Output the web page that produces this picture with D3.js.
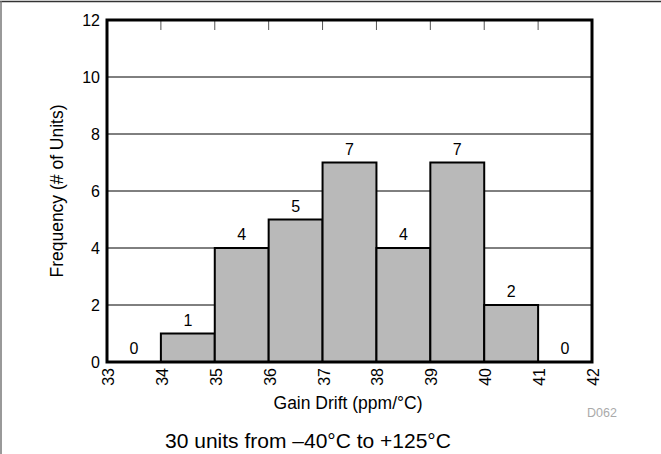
<!DOCTYPE html>
<html>
<head>
<meta charset="utf-8">
<script src="https://cdn.jsdelivr.net/npm/d3@7"></script>
<style>
  body { margin: 0; background: #fff; }
  svg text { font-family: "Liberation Sans", Arial, sans-serif; }
</style>
</head>
<body>
<div id="c"></div>
<script>
// histogram bins (ppm/°C) and counts
var bin_start = [33, 34, 35, 36, 37, 38, 39, 40, 41];
var counts = [0, 1, 4, 5, 7, 4, 7, 2, 0];
var x_ticks = [33, 34, 35, 36, 37, 38, 39, 40, 41, 42];
var y_ticks = [0, 2, 4, 6, 8, 10, 12];

var width = 661, height = 454;
var p_left = 107, p_right = 592, p_top = 20, p_bottom = 362;

var svg = d3.select("#c").append("svg")
	.attr("width", width)
	.attr("height", height);

// outer border (top and left only)
svg.append("line").attr("x1", 0).attr("x2", width).attr("y1", 1.5).attr("y2", 1.5)
	.attr("stroke", "#333").attr("stroke-width", 1.5);
svg.append("line").attr("x1", 1).attr("x2", 1).attr("y1", 1).attr("y2", height)
	.attr("stroke", "#777").attr("stroke-width", 1.5);

var x_scale = d3.scaleLinear().domain([33, 42]).range([p_left, p_right]);
var y_scale = d3.scaleLinear().domain([0, 12]).range([p_bottom, p_top]);

// grid lines
svg.append("g").selectAll("line")
	.data(y_ticks.slice(1, -1))
	.enter().append("line")
	.attr("x1", p_left).attr("x2", p_right)
	.attr("y1", function(d) { return y_scale(d); })
	.attr("y2", function(d) { return y_scale(d); })
	.attr("stroke", "#000").attr("stroke-width", 1);

// top inward ticks
svg.append("g").selectAll("line")
	.data(x_ticks.slice(1, -1))
	.enter().append("line")
	.attr("x1", function(d) { return x_scale(d); })
	.attr("x2", function(d) { return x_scale(d); })
	.attr("y1", p_top).attr("y2", p_top + 10)
	.attr("stroke", "#555").attr("stroke-width", 1);

// bars
svg.append("g").selectAll("rect")
	.data(bin_start)
	.enter().append("rect")
	.attr("x", function(d) { return x_scale(d); })
	.attr("y", function(d, i) { return y_scale(counts[i]); })
	.attr("width", function(d) { return x_scale(d + 1) - x_scale(d); })
	.attr("height", function(d, i) { return p_bottom - y_scale(counts[i]); })
	.attr("fill", "#b9b9b9")
	.attr("stroke", "#000")
	.attr("stroke-width", 2);

// count labels
svg.append("g").selectAll("text")
	.data(bin_start)
	.enter().append("text")
	.attr("x", function(d) { return x_scale(d + 0.5); })
	.attr("y", function(d, i) { return y_scale(counts[i]) - 8; })
	.attr("text-anchor", "middle")
	.attr("font-size", 16)
	.text(function(d, i) { return counts[i]; });

// plot frame
svg.append("rect")
	.attr("x", p_left).attr("y", p_top)
	.attr("width", p_right - p_left).attr("height", p_bottom - p_top)
	.attr("fill", "none").attr("stroke", "#000").attr("stroke-width", 3);

// y tick labels
svg.append("g").selectAll("text")
	.data(y_ticks)
	.enter().append("text")
	.attr("x", p_left - 7)
	.attr("y", function(d) { return y_scale(d) + 6; })
	.attr("text-anchor", "end")
	.attr("font-size", 16)
	.text(function(d) { return d; });

// x tick labels, rotated
svg.append("g").selectAll("text")
	.data(x_ticks)
	.enter().append("text")
	.attr("transform", function(d) { return "translate(" + (x_scale(d) + 7) + "," + (p_bottom + 6) + ") rotate(-90)"; })
	.attr("text-anchor", "end")
	.attr("font-size", 16)
	.text(function(d) { return d; });

svg.append("text")
	.attr("transform", "translate(63," + ((p_top + p_bottom) / 2) + ") rotate(-90)")
	.attr("text-anchor", "middle")
	.attr("font-size", 17.5)
	.text("Frequency (# of Units)");

svg.append("text")
	.attr("x", 348).attr("y", 409)
	.attr("text-anchor", "middle")
	.attr("font-size", 17.5)
	.text("Gain Drift (ppm/°C)");

svg.append("text")
	.attr("x", 602).attr("y", 417)
	.attr("text-anchor", "middle")
	.attr("font-size", 12.5)
	.attr("fill", "#aaa")
	.text("D062");

svg.append("text")
	.attr("x", 308).attr("y", 448)
	.attr("text-anchor", "middle")
	.attr("font-size", 21)
	.text("30 units from \u201340°C to +125°C");
</script>
</body>
</html>
